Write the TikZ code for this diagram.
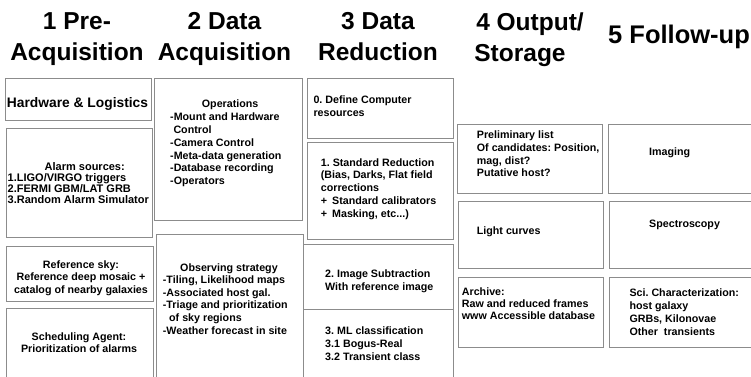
\documentclass[tikz,border=0pt]{standalone}
\usepackage{fontspec}
\setmainfont{Liberation Sans}
\frenchspacing
\begin{document}
\begin{tikzpicture}[x=1pt,y=-1pt,
  box/.style={draw=black!45, line width=1.4pt, fill=white, rectangle, inner sep=0pt, anchor=north west},
  head/.style={font=\fontsize{24.5}{31}\selectfont\bfseries, align=center, inner sep=0pt, anchor=north},
  txt/.style={font=\fontsize{10.7}{#1}\selectfont\bfseries, align=left, inner sep=0pt, anchor=north west},
  txt/.default=12.8,
  ctxt/.style={font=\fontsize{10.7}{#1}\selectfont\bfseries, align=center, inner sep=0pt, anchor=north},
  ctxt/.default=12.6,
  one/.style={font=\fontsize{10.7}{12.8}\selectfont\bfseries, inner sep=0pt, anchor=base west}
]
\useasboundingbox (0,0) rectangle (751,376);
\clip (0,0) rectangle (751,376);
\fill[white] (0,0) rectangle (751,376);

% headings
\node[head] (h1) at (77,12.3) {1 Pre-\\Acquisition};
\node[head] (h2) at (224.5,12.3) {2 Data\\Acquisition};
\node[head] (h3) at (378,12.3) {3 Data\\Reduction};
\node[head] (h4) at (530,12.3) {4 Output/\\Storage\hspace*{20pt}};
\node[font=\fontsize{25.5}{31}\selectfont\bfseries, inner sep=0pt, anchor=base] (h5) at (679,43) {5 Follow-up};

% column 1
\node[box, minimum width=146pt, minimum height=42pt] (a1) at (5,78) {};
\node[box, minimum width=146pt, minimum height=109pt] (a2) at (6,128) {};
\node[box, minimum width=147pt, minimum height=55pt] (a3) at (6,246) {};
\node[box, minimum width=147pt, minimum height=80pt] (a4) at (6,308) {};
\node[font=\fontsize{13.8}{16}\selectfont\bfseries, inner sep=0pt, anchor=base] (a1t) at (77.5,107.5) {Hardware \& Logistics};
\node[font=\fontsize{11}{11}\selectfont\bfseries, align=left, inner sep=0pt, anchor=north west] (a2t) at (7.5,162.2)
  {\hspace*{37pt}Alarm sources:\\1.LIGO/VIRGO triggers\\2.FERMI GBM/LAT GRB\\3.Random Alarm Simulator};
\node[ctxt=12.5] (a3t) at (81,260.2) {Reference sky:\\Reference deep mosaic +\\catalog of nearby galaxies};
\node[ctxt=12.7] (a4t) at (79,332.2) {Scheduling Agent:\\Prioritization of alarms};

% column 2
\node[box, minimum width=148pt, minimum height=142pt] (b1) at (154,78) {};
\node[box, minimum width=147pt, minimum height=150pt] (b2) at (156,234) {};
\node[txt=12.9] (b1t) at (170,99.5)
  {\hspace*{31.7pt}Operations\\-Mount and Hardware\\\hspace*{3.3pt}Control\\-Camera Control\\-Meta-data generation\\-Database recording\\-Operators};
\node[txt=12.6] (b2t) at (162.7,263.2)
  {\hspace*{17.3pt}Observing strategy\\-Tiling, Likelihood maps\\-Associated host gal.\\-Triage and prioritization\\\hspace*{6.3pt}of sky regions\\-Weather forecast in site};

% column 3
\node[box, minimum width=146pt, minimum height=60pt] (c1) at (307,78) {};
\node[box, minimum width=146pt, minimum height=97pt] (c2) at (307,142) {};
\node[box, minimum width=150pt, minimum height=65pt] (c3) at (303,244) {};
\node[box, minimum width=150pt, minimum height=75pt] (c4) at (303,309) {};
\node[txt=13.4] (c1t) at (313.3,95.5) {0. Define Computer\\resources};
\node[txt=12.8] (c2t) at (320.7,158.2)
  {1. Standard Reduction\\(Bias, Darks, Flat field\\corrections\\+\hspace{5pt}Standard calibrators\\+\hspace{5pt}Masking, etc...)};
\node[txt=12.7] (c3t) at (325,269.5) {2. Image Subtraction\\With reference image};
\node[txt=12.9] (c4t) at (325,326.5) {3. ML classification\\3.1 Bogus-Real\\3.2 Transient class};

% column 4
\node[box, minimum width=145pt, minimum height=69pt] (d1) at (457,124) {};
\node[box, minimum width=145pt, minimum height=67pt] (d2) at (458,201) {};
\node[box, minimum width=145pt, minimum height=70pt] (d3) at (458,277) {};
\node[txt=12.8] (d1t) at (476.7,130.5) {Preliminary list\\Of candidates: Position,\\mag, dist?\\Putative host?};
\node[one] (d2t) at (476.7,234.3) {Light curves};
\node[txt=12.2] (d3t) at (461.7,287.2) {Archive:\\Raw and reduced frames\\www Accessible database};

% column 5
\node[box, minimum width=152pt, minimum height=69pt] (e1) at (608,124) {};
\node[box, minimum width=152pt, minimum height=67pt] (e2) at (609,201) {};
\node[box, minimum width=152pt, minimum height=70pt] (e3) at (609,277) {};
\node[one] (e1t) at (649,155.7) {Imaging};
\node[one] (e2t) at (649,227.7) {Spectroscopy};
\node[txt=12.8] (e3t) at (629.3,288.9) {Sci. Characterization:\\host galaxy\\GRBs, Kilonovae\\Other\ \ transients};
\end{tikzpicture}
\end{document}
